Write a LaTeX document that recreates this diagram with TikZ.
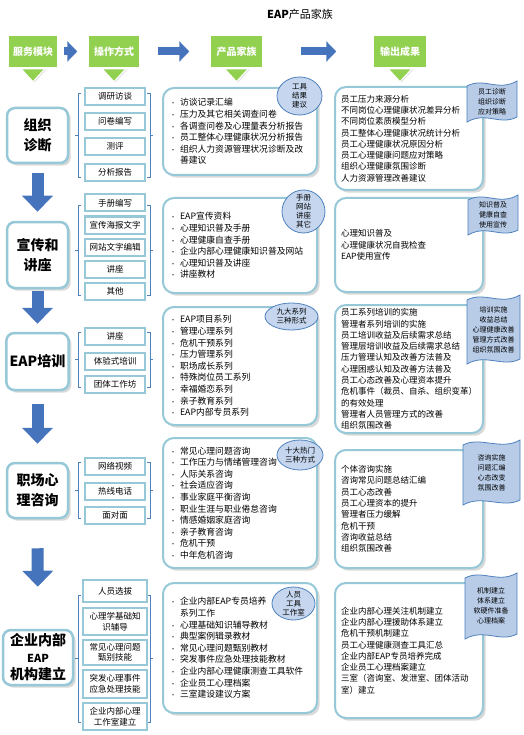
\documentclass[tikz,border=0pt]{standalone}
\usepackage{fontspec}
\setmainfont{Noto Sans CJK SC}
\usetikzlibrary{arrows.meta, shapes.geometric, shadows}

\definecolor{grn}{RGB}{146,208,80}
\definecolor{bord}{RGB}{150,200,216}
\definecolor{arrblue}{RGB}{70,116,188}
\definecolor{darkblue}{RGB}{79,129,189}
\definecolor{ellfill}{RGB}{197,214,238}
\definecolor{wavefill}{RGB}{184,204,232}

\newcommand\bul{\makebox[10pt][l]{\fontsize{6}{6}\selectfont\textbullet}}
\newcommand\bulgap{\makebox[10pt][l]{}}

\begin{document}
\begin{tikzpicture}[x=1pt, y=-1pt,
    head/.style = {fill=grn, draw=white, line width=1.5pt, text=white, inner sep=1pt, minimum height=33pt,
                   font=\bfseries\fontsize{10}{12}\selectfont, drop shadow={opacity=0.35, shadow xshift=1pt, shadow yshift=-1pt}},
    module/.style = {draw=bord, fill=white, line width=2.5pt, rounded corners=8pt, align=center,
                     font=\bfseries\fontsize{14}{20}\selectfont, drop shadow={opacity=0.3}},
    op/.style = {draw=bord, fill=white, line width=2pt, minimum width=60pt, align=center, inner sep=1pt,
                 font=\fontsize{8.5}{10.5}\selectfont, drop shadow={opacity=0.25, shadow xshift=1pt, shadow yshift=-1pt}},
    prod/.style = {draw=bord, fill=white, line width=2pt, rounded corners=11pt, minimum width=154pt, text width=140pt,
                   inner xsep=7pt, align=left, font=\fontsize{8.8}{11.6}\selectfont, drop shadow={opacity=0.3}},
    outp/.style = {prod, minimum width=148pt, text width=136pt, inner xsep=6pt, font=\fontsize{8.5}{11.3}\selectfont},
    tag/.style = {ellipse, draw=darkblue, fill=ellfill, line width=0.8pt, inner sep=0pt, align=center,
                  font=\fontsize{7.5}{9}\selectfont},
    wave/.style = {draw=darkblue, fill=wavefill, line width=0.8pt},
    wavetext/.style = {align=center, inner sep=0pt, font=\fontsize{7}{10}\selectfont},
    hdarrow/.style = {draw=arrblue, line width=8pt, -{Triangle[width=20pt, length=10pt]}},
    bigarrow/.style = {draw=arrblue, line width=12pt, -{Triangle[width=30pt, length=16pt]}},
    brk/.style = {draw=darkblue, line width=0.9pt}
  ]
  \useasboundingbox (0,0) rectangle (523,735);

  % title and header row
  \node (title) at (300,14) {\fontsize{11}{13}\selectfont\textbf{EAP}产品家族};
  \node[head, minimum width=50pt] (h1) at (33,51.5) {服务模块};
  \node[head, minimum width=52pt] (h2) at (114,51.5) {操作方式};
  \node[head, minimum width=53pt] (h3) at (236.5,51.5) {产品家族};
  \node[head, minimum width=54pt] (h4) at (400,51.5) {输出成果};
  \foreach \h in {h1,h2,h3,h4}
    \filldraw[fill=grn, draw=white, line width=1.2pt, drop shadow={opacity=0.3, shadow xshift=1pt, shadow yshift=-1pt}]
      ([xshift=-12pt]\h.south) -- ([xshift=12pt]\h.south) -- ([yshift=-13pt]\h.south) -- cycle;
  \draw[hdarrow, shorten <=5pt, shorten >=10pt] (h1) -- (h2);
  \draw[hdarrow, shorten <=17pt, shorten >=20pt] (h2) -- (h3);
  \draw[hdarrow, shorten <=37pt, shorten >=36pt] (h3) -- (h4);

  % service modules
  \node[module, minimum width=61pt, minimum height=55pt] (m1) at (37.5,135.5) {组织\\诊断};
  \node[module, minimum width=61pt, minimum height=66pt] (m2) at (37.5,255) {宣传和\\讲座};
  \node[module, minimum width=61pt, minimum height=57pt] (m3) at (37.5,361.5) {EAP培训};
  \node[module, minimum width=61pt, minimum height=55pt] (m4) at (37.5,490.5) {职场心\\理咨询};
  \node[module, minimum width=70pt, minimum height=55pt, font=\bfseries\fontsize{14}{17}\selectfont] (m5) at (38,657.5)
    {企业内部\\{\fontsize{11}{14}\selectfont EAP}\\机构建立};
  \draw[bigarrow, shorten <=9pt, shorten >=9pt] (m1) -- (m2);
  \draw[bigarrow, shorten <=2pt, shorten >=8pt] (m2) -- (m3);
  \draw[bigarrow, shorten <=13pt, shorten >=18pt] (m3) -- (m4);
  \draw[bigarrow, shorten <=29pt, shorten >=42pt] (m4) -- (m5);

  % brackets round the operation boxes
  \foreach \ya/\yb in {93/177, 205/295, 332/387, 462/518, 595/722} {
    \draw[brk] (81,\ya) -- (78,\ya) -- (78,\yb) -- (81,\yb);
    \draw[brk] (78,{(\ya+\yb)/2}) -- (75,{(\ya+\yb)/2});
    \draw[brk] (147,\ya) -- (150,\ya) -- (150,\yb) -- (147,\yb);
    \draw[brk] (150,{(\ya+\yb)/2}) -- (153,{(\ya+\yb)/2});
  }

  % operation modes
  \node[op, minimum height=17pt] (a1) at (115,96.5) {调研访谈};
  \node[op, minimum height=17pt] (a2) at (115,121.5) {问卷编写};
  \node[op, minimum height=17pt] (a3) at (115,146.5) {测评};
  \node[op, minimum height=17pt] (a4) at (115,172.5) {分析报告};

  \node[op, minimum height=17pt] (b1) at (115,203) {手册编写};
  \node[op, minimum height=17pt] (b2) at (115,225) {宣传海报文字};
  \node[op, minimum height=17pt] (b3) at (115,247) {网站文字编辑};
  \node[op, minimum height=17pt] (b4) at (115,269) {讲座};
  \node[op, minimum height=17pt] (b5) at (115,291) {其他};

  \node[op, minimum height=17pt] (c1) at (115,336) {讲座};
  \node[op, minimum height=17pt] (c2) at (115,361) {体验式培训};
  \node[op, minimum height=17pt] (c3) at (115,384) {团体工作坊};

  \node[op, minimum height=17pt] (d1) at (115,466) {网络视频};
  \node[op, minimum height=17pt] (d2) at (115,491) {热线电话};
  \node[op, minimum height=17pt] (d3) at (115,515) {面对面};

  \node[op, minimum width=64pt, minimum height=22pt] (f1) at (115,591) {人员选拔};
  \node[op, minimum width=64pt, minimum height=27pt] (f2) at (115,621.5) {心理学基础知\\识辅导};
  \node[op, minimum width=64pt, minimum height=25pt] (f3) at (115,652.5) {常见心理问题\\甄别技能};
  \node[op, minimum width=64pt, minimum height=28pt] (f4) at (115,684) {突发心理事件\\应急处理技能};
  \node[op, minimum width=64pt, minimum height=27pt] (f5) at (115,716.5) {企业内部心理\\工作室建立};

  % product family
  \node[prod, minimum height=87pt] (p1) at (240,131.5)
    {\bul 访谈记录汇编\\ \bul 压力及其它相关调查问卷\\ \bul 各调查问卷及心理量表分析报告\\
     \bul 员工整体心理健康状况分析报告\\ \bul 组织人力资源管理状况诊断及改\\ \bulgap 善建议};
  \node[prod, minimum height=95pt] (p2) at (240,245.5)
    {\bul EAP宣传资料\\ \bul 心理知识普及手册\\ \bul 心理健康自查手册\\
     \bul 企业内部心理健康知识普及网站\\ \bul 心理知识普及讲座\\ \bul 讲座教材};
  \node[prod, minimum height=118pt] (p3) at (240,366)
    {\bul EAP项目系列\\ \bul 管理心理系列\\ \bul 危机干预系列\\ \bul 压力管理系列\\ \bul 职场成长系列\\
     \bul 特殊岗位员工系列\\ \bul 幸福婚恋系列\\ \bul 亲子教育系列\\ \bul EAP内部专员系列};
  \node[prod, minimum height=130pt] (p4) at (240,503)
    {\bul 常见心理问题咨询\\ \bul 工作压力与情绪管理咨询\\ \bul 人际关系咨询\\ \bul 社会适应咨询\\
     \bul 事业家庭平衡咨询\\ \bul 职业生涯与职业倦怠咨询\\ \bul 情感婚姻家庭咨询\\ \bul 亲子教育咨询\\
     \bul 危机干预\\ \bul 中年危机咨询};
  \node[prod, minimum height=130pt] (p5) at (240,648)
    {\bul 企业内部EAP专员培养\\ \bulgap 系列工作\\ \bul 心理基础知识辅导教材\\ \bul 典型案例辑录教材\\
     \bul 常见心理问题甄别教材\\ \bul 突发事件应急处理技能教材\\ \bul 企业内部心理健康测查工具软件\\
     \bul 企业员工心理档案\\ \bul 三室建设建议方案};

  \node[tag, minimum width=45pt, minimum height=38pt] (e1) at (299.5,96) {工具\\结果\\建议};
  \node[tag, minimum width=43pt, minimum height=43pt, inner sep=-4pt] (e2) at (303.5,211.5) {手册\\网站\\讲座\\其它};
  \node[tag, minimum width=53pt, minimum height=27pt] (e3) at (291.5,316.5) {九大系列\\三种形式};
  \node[tag, minimum width=46pt, minimum height=30pt] (e4) at (300,455) {十大热门\\三种方式};
  \node[tag, minimum width=43pt, minimum height=33pt, inner sep=-2pt] (e5) at (293.5,603.5) {人员\\工具\\工作室};

  % output results
  \node[outp, minimum height=103pt] (o1) at (409,138.5)
    {员工压力来源分析\\ 不同岗位心理健康状况差异分析\\ 不同岗位素质模型分析\\ 员工整体心理健康状况统计分析\\
     员工心理健康状况原因分析\\ 员工心理健康问题应对策略\\ 组织心理健康氛围诊断\\ 人力资源管理改善建议};
  \node[outp, minimum height=94pt] (o2) at (409,245)
    {心理知识普及\\ 心理健康状况自我检查\\ EAP使用宣传};
  \node[outp, minimum height=128pt] (o3) at (409,369)
    {员工系列培训的实施\\ 管理者系列培训的实施\\ 员工培训收益及后续需求总结\\ 管理层培训收益及后续需求总结\\
     压力管理认知及改善方法普及\\ 心理困惑认知及改善方法普及\\ 员工心态改善及心理资本提升\\
     危机事件（裁员、自杀、组织变革）\\ 的有效处理\\ 管理者人员管理方式的改善\\ 组织氛围改善};
  \node[outp, minimum height=118pt] (o4) at (409,509)
    {个体咨询实施\\ 咨询常见问题总结汇编\\ 员工心态改善\\ 员工心理资本的提升\\ 管理者压力缓解\\
     危机干预\\ 咨询收益总结\\ 组织氛围改善};
  \node[outp, minimum height=135pt] (o5) at (409,650.5)
    {企业内部心理关注机制建立\\ 企业内部心理援助体系建立\\ 危机干预机制建立\\ 员工心理健康测查工具汇总\\
     企业内部EAP专员培养完成\\ 企业员工心理档案建立\\ 三室（咨询室、发泄室、团体活动\\ 室）建立};

  \foreach \xa/\ya/\xb/\yb in {467/83/517/120, 468/197/518/233, 467/297/520/362, 463/442/520/503, 465/575/517/637}
    \draw[wave] (\xa,\ya+3) .. controls (\xa+17,\ya-6) and (\xb-19,\ya+9) .. (\xb,\ya-2)
      -- (\xb,\yb-3) .. controls (\xb-17,\yb+6) and (\xa+19,\yb-9) .. (\xa,\yb+2) -- cycle;
  \node[wavetext] (w1) at (492,101.5) {员工诊断\\组织诊断\\应对策略};
  \node[wavetext] (w2) at (493,215) {知识普及\\健康自查\\使用宣传};
  \node[wavetext] (w3) at (493.5,329.5) {培训实施\\收益总结\\心理健康改善\\管理方式改善\\组织氛围改善};
  \node[wavetext] (w4) at (491.5,472.5) {咨询实施\\问题汇编\\心态改变\\氛围改善};
  \node[wavetext] (w5) at (491,606) {机制建立\\体系建立\\软硬件准备\\心理档案};
\end{tikzpicture}
\end{document}
